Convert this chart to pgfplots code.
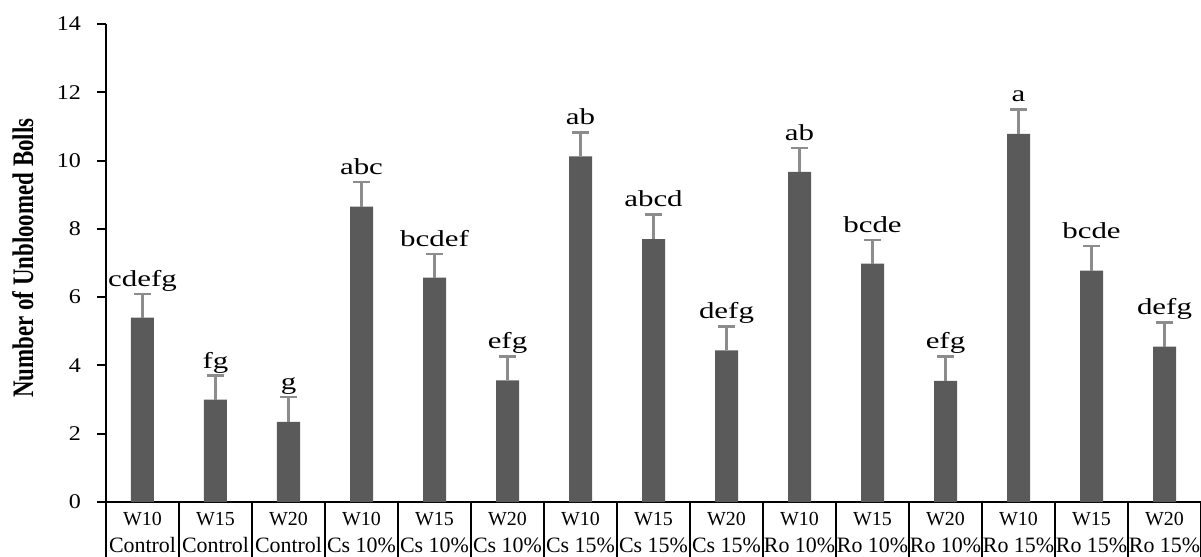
\documentclass[border=0pt]{standalone}
\usepackage{pgfplots}
\pgfplotsset{compat=1.18}
\usepackage{pgfplotstable}
\usepackage{fontspec}
\setmainfont{Liberation Serif}
\newfontfamily\letfont[FakeStretch=1.35]{Liberation Serif}
\newfontfamily\tickfont[FakeStretch=1.15]{Liberation Serif}
\definecolor{barcol}{HTML}{5A5A5A}
\definecolor{errcol}{HTML}{8C8C8C}
\newcommand\sndrow[1]{{\fontsize{11}{13.5}\selectfont #1}}
\pgfplotstableread{
x val err lab
0 5.40 0.70 cdefg
1 3.00 0.70 fg
2 2.35 0.72 g
3 8.65 0.72 abc
4 6.57 0.70 bcdef
5 3.56 0.70 efg
6 10.12 0.70 ab
7 7.70 0.72 abcd
8 4.44 0.70 defg
9 9.67 0.70 ab
10 6.98 0.70 bcde
11 3.55 0.71 efg
12 10.78 0.72 a
13 6.78 0.71 bcde
14 4.55 0.71 defg
}\datatable
\begin{document}
\begin{tikzpicture}
\begin{axis}[
  at={(0,0)}, anchor=south west,
  scale only axis,
  width=547.5bp, height=239bp,
  xmin=-0.5, xmax=14.5,
  ymin=0, ymax=14,
  axis x line*=bottom, axis y line*=left,
  axis line style={black, line width=1.2bp},
  ytick={0,2,...,14},
  tick align=outside,
  major tick length=4.5bp,
  tick style={black, line width=1bp},
  yticklabel style={font=\tickfont\fontsize{10.5}{12}\selectfont, xshift=-4.5bp},
  /pgf/number format/assume math mode=true,
  xtick={0,...,14},
  major x tick style={draw=none},
  xticklabels={{W10\\\sndrow{Control}},{W15\\\sndrow{Control}},{W20\\\sndrow{Control}},
    {W10\\\sndrow{Cs 10\%}},{W15\\\sndrow{Cs 10\%}},{W20\\\sndrow{Cs 10\%}},
    {W10\\\sndrow{Cs 15\%}},{W15\\\sndrow{Cs 15\%}},{W20\\\sndrow{Cs 15\%}},
    {W10\\\sndrow{Ro 10\%}},{W15\\\sndrow{Ro 10\%}},{W20\\\sndrow{Ro 10\%}},
    {W10\\\sndrow{Ro 15\%}},{W15\\\sndrow{Ro 15\%}},{W20\\\sndrow{Ro 15\%}}},
  xticklabel style={align=center, font=\fontsize{10}{13.5}\selectfont, yshift=3bp},
  ylabel={Number of Unbloomed Bolls},
  every axis y label/.style={at={(axis description cs:0,0.51)}, rotate=90, yscale=1.3, anchor=center, yshift=32bp, font=\fontsize{11.5}{13}\selectfont\bfseries},
  clip=false,
]
\addplot[ybar, bar width=11.5bp, fill=barcol, draw=none,
  error bars/.cd, y dir=plus, y explicit,
  error bar style={errcol, line width=1.2bp},
  error mark options={errcol, line width=1.2bp, mark size=4.25bp, rotate=90}]
  table[x=x, y=val, y error=err] {\datatable};
\addplot[draw=none, mark=none, nodes near coords, point meta=explicit symbolic,
  nodes near coords style={anchor=base, yshift=3.8bp, font=\letfont\fontsize{11.5}{13}\selectfont, text=black}]
  table[x=x, y expr=\thisrow{val}+\thisrow{err}, meta=lab] {\datatable};
\pgfplotsinvokeforeach{-0.5,0.5,...,14.5}{
  \draw[black, line width=1bp] (axis cs:#1,0) -- ([yshift=-28bp]axis cs:#1,0);
}
\end{axis}
\pgfresetboundingbox
\useasboundingbox (-53bp,-27.5bp) rectangle (547.5bp,251bp);
\end{tikzpicture}
\end{document}
